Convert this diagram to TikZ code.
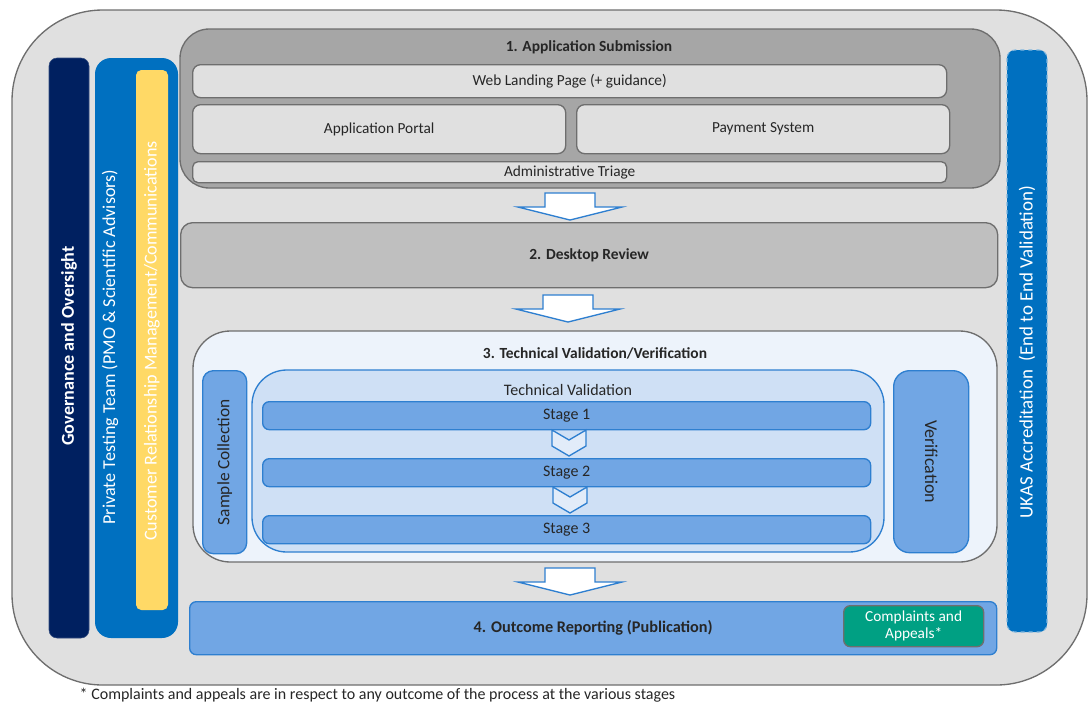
\documentclass[tikz,border=0pt]{standalone}
\usepackage{fontspec}
\setmainfont{Carlito}
\usetikzlibrary{positioning}
\definecolor{bgray}{HTML}{E0E0E0}
\definecolor{edgegray}{HTML}{6E6E6E}
\definecolor{midgray}{HTML}{A6A6A6}
\definecolor{desk}{HTML}{BFBFBF}
\definecolor{navy}{HTML}{002060}
\definecolor{royal}{HTML}{0070C0}
\definecolor{yell}{HTML}{FFD966}
\definecolor{paleblue}{HTML}{EDF3FB}
\definecolor{lightblue}{HTML}{CFE0F5}
\definecolor{medblue}{HTML}{71A6E4}
\definecolor{lineblue}{HTML}{2E7FD0}
\definecolor{teal}{HTML}{00A083}
\definecolor{txt}{HTML}{262626}
\tikzset{
  box/.style={draw=edgegray, line width=1pt, rounded corners=6pt, inner sep=0pt, font=\fontsize{11.5}{13}\selectfont, text=txt},
  lightbox/.style={box, fill=bgray},
  bluebox/.style={draw=lineblue, line width=1pt, fill=medblue, rounded corners=5pt, inner sep=0pt, font=\fontsize{12}{14}\selectfont, text=txt},
  bar/.style={rounded corners=6pt, inner sep=0pt},
  bartext/.style={rotate=90, text=white, font=\fontsize{13.6}{15}\selectfont},
  title/.style={font=\bfseries\fontsize{11.6}{13}\selectfont, text=txt},
  blockarrow/.pic={\draw[draw=lineblue, fill=white, line width=1pt]
      (-25,0) -- (25,0) -- (25,14) -- (52,14) -- (0,27) -- (-52,14) -- (-25,14) -- cycle;},
  chevron/.pic={\draw[draw=lineblue, fill=lightblue!60!white, line width=1pt]
      (-17,0) -- (0,10) -- (17,0) -- (17,16) -- (0,26) -- (-17,16) -- cycle;},
}
\begin{document}
\begin{tikzpicture}[x=0.75pt, y=-0.75pt]
\useasboundingbox (0,0) rectangle (1088,704);
% outer
\path[fill=bgray, draw=edgegray, line width=1pt, rounded corners=68pt] (12,10) rectangle (1087,685);
% left bars
\path[fill=navy, draw=navy!80!white, bar] (49,58) rectangle (89,638);
\node[bartext, font=\bfseries\fontsize{13.6}{15}\selectfont] (gov) at (69,346) {Governance and Oversight};
\path[fill=royal, bar, rounded corners=12pt] (95,58) rectangle (178,638);
\node[bartext] (ptt) at (110,347) {Private Testing Team (PMO \& Scientific Advisors)};
\path[fill=yell, bar, rounded corners=4pt] (136,70) rectangle (168,610);
\node[bartext] (crm) at (152,341) {Customer Relationship Management/Communications};
% UKAS
\path[fill=royal, draw=royal!50!white, dashed, line width=0.8pt, rounded corners=6pt] (1007,50) rectangle (1047,632);
\node[bartext, font=\fontsize{14.2}{16}\selectfont] (ukas) at (1027,352) {UKAS Accreditation\ \ (End to End Validation)};
% 1. Application submission
\path[fill=midgray, draw=edgegray, line width=1pt, rounded corners=22pt] (180,29) rectangle (1000,188);
\node[title] (t1) at (589,47) {1. Application Submission};
\node[lightbox, minimum width=754*0.75pt, minimum height=33*0.75pt, anchor=north west] (web) at (192,64) {Web Landing Page (+ guidance)};
\node[lightbox, minimum width=373*0.75pt, minimum height=49*0.75pt, anchor=north west] (portal) at (192,104) {Application Portal};
\node[lightbox, minimum width=373*0.75pt, minimum height=49*0.75pt, anchor=north west] (pay) at (576,104) {Payment System};
\node[lightbox, rounded corners=4pt, minimum width=754*0.75pt, minimum height=21*0.75pt, anchor=north west] (triage) at (192,161) {Administrative Triage};
% arrow 1
\pic at (570,193) {blockarrow};
% 2. Desktop review
\node[box, fill=desk, rounded corners=9pt, minimum width=817*0.75pt, minimum height=65*0.75pt, anchor=north west, title] (desk) at (180,222) {2. Desktop Review};
\pic at (568,295) {blockarrow};
% 3. Technical
\path[fill=paleblue, draw=edgegray, line width=1pt, rounded corners=28pt] (193,331) rectangle (997,562);
\node[title] (t3) at (595,353) {3. Technical Validation/Verification};
\node[bluebox, rounded corners=8pt, minimum width=44*0.75pt, minimum height=183*0.75pt, anchor=north west] (sample) at (202,370) {};
\node[rotate=90, font=\fontsize{13}{15}\selectfont, text=txt] at (sample.center) {Sample Collection};
\path[fill=lightblue, draw=lineblue, line width=1pt, rounded corners=26pt] (252,370) rectangle (884,552);
\node[font=\fontsize{12}{14}\selectfont, text=txt] (tv) at (568,390) {Technical Validation};
\node[bluebox, minimum width=608*0.75pt, minimum height=28*0.75pt, anchor=north west] (s1) at (262,401) {Stage 1};
\node[bluebox, minimum width=608*0.75pt, minimum height=28*0.75pt, anchor=north west] (s2) at (262,458) {Stage 2};
\node[bluebox, minimum width=608*0.75pt, minimum height=28*0.75pt, anchor=north west] (s3) at (262,515) {Stage 3};
\pic at (569,430) {chevron};
\pic at (570,487) {chevron};
\node[bluebox, rounded corners=12pt, minimum width=75*0.75pt, minimum height=182*0.75pt, anchor=north west] (verif) at (893,370) {};
\node[rotate=-90, font=\fontsize{13.5}{15}\selectfont, text=txt] at (verif.center) {Verification};
\pic at (570,568) {blockarrow};
% 4. Outcome
\node[bluebox, minimum width=807*0.75pt, minimum height=53*0.75pt, anchor=north west, font=\bfseries\fontsize{12.2}{14}\selectfont] (out) at (189,601) {4. Outcome Reporting (Publication)};
\node[draw=edgegray, line width=1pt, fill=teal, rounded corners=5pt, minimum width=140*0.75pt, minimum height=41*0.75pt, anchor=north west, inner sep=0pt] (comp) at (843,605) {};
\node[align=center, text=white, font=\fontsize{11.5}{13}\selectfont] at (comp.center) {Complaints and\\Appeals*};
% footnote
\node[anchor=west, font=\fontsize{12}{14}\selectfont, text=txt] (foot) at (75,695) {* Complaints and appeals are in respect to any outcome of the process at the various stages};
\end{tikzpicture}
\end{document}
